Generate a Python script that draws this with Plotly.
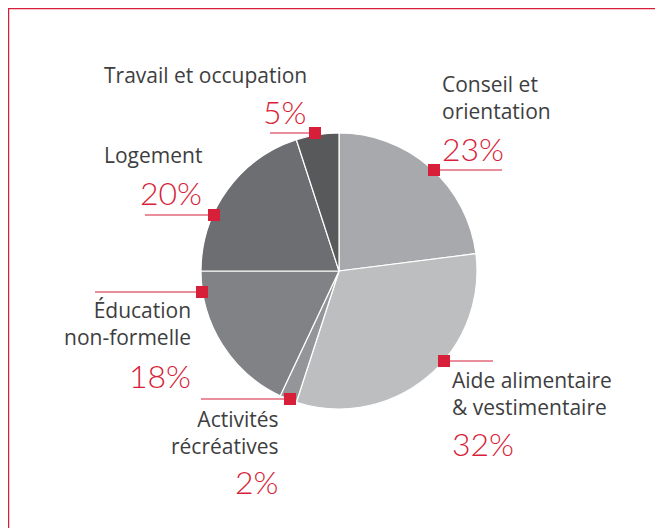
import plotly.graph_objects as go

W, H = 663, 528
OFF = 8  # page body margin of the browser

# data
labels = ["Conseil et orientation", "Aide alimentaire & vestimentaire",
          "Activités récréatives", "Éducation non-formelle",
          "Logement", "Travail et occupation"]
values = [23, 32, 2, 18, 20, 5]
slice_colors = ["#a7a9ac", "#bcbec0", "#939598", "#808285", "#6d6e71", "#58595b"]
label_lines = [["Conseil et", "orientation"],
               ["Aide alimentaire", "& vestimentaire"],
               ["Activités", "récréatives"],
               ["Éducation", "non-formelle"],
               ["Logement"],
               ["Travail et occupation"]]

RED = "#d71f3a"
GREY_TXT = "#3e3e40"
FONT = "Open Sans"

# pie placement (page pixels)
cx, cy, r = 339, 271, 138

# callout layout: marker (x,y), line x-range, text anchor x, side, baselines
callouts = [
    dict(m=(434, 170), lx=(434, 502), tx=440, side="left", base=[91, 119], pbase=160),
    dict(m=(444, 361), lx=(444, 493), tx=450, side="left", base=[388, 415], pbase=455),
    dict(m=(290, 399), lx=(201, 290), tx=281, side="right", base=[427, 453], pbase=493),
    dict(m=(202, 292), lx=(95, 202), tx=193, side="right", base=[318, 345], pbase=387),
    dict(m=(214, 215), lx=(145, 214), tx=204, side="right", base=[163], pbase=205),
    dict(m=(315, 133), lx=(270, 315), tx=309, side="right", base=[83], pbase=123),
]


def px(x, y):
    return (x - OFF) / W, 1 - (y - OFF) / H


fig = go.Figure(go.Pie(
    labels=labels, values=values, sort=False, direction="clockwise", rotation=0,
    marker=dict(colors=slice_colors, line=dict(color="white", width=1.2)),
    textinfo="none", hoverinfo="label+percent", showlegend=False,
    domain=dict(x=[(cx - r - OFF) / W, (cx + r - OFF) / W],
                y=[1 - (cy + r - OFF) / H, 1 - (cy - r - OFF) / H]),
))

shapes = []
annotations = []
# frame (top and left edges visible)
shapes.append(dict(type="line", xref="paper", yref="paper",
                   x0=0, y0=1, x1=1, y1=1, line=dict(color=RED, width=2.5)))
shapes.append(dict(type="line", xref="paper", yref="paper",
                   x0=0, y0=0, x1=0, y1=1, line=dict(color=RED, width=2.5)))

for i, c in enumerate(callouts):
    mx, my = c["m"]
    x0, y0 = px(c["lx"][0], my)
    x1, y1 = px(c["lx"][1], my)
    shapes.append(dict(type="line", xref="paper", yref="paper", x0=x0, y0=y0, x1=x1, y1=y1,
                       line=dict(color=RED, width=1.2)))
    a0 = px(mx - 6, my - 6)
    a1 = px(mx + 6, my + 6)
    shapes.append(dict(type="rect", xref="paper", yref="paper",
                       x0=a0[0], y0=a0[1], x1=a1[0], y1=a1[1],
                       fillcolor=RED, line=dict(width=0)))
    # label (one or two lines)
    mid = sum(c["base"]) / len(c["base"]) - 8
    ax, ay = px(c["tx"], mid)
    annotations.append(dict(xref="paper", yref="paper", x=ax, y=ay,
                            text="<br>".join(label_lines[i]),
                            showarrow=False, xanchor=c["side"], yanchor="middle",
                            align=c["side"],
                            font=dict(family=FONT, size=21, color=GREY_TXT)))
    ax, ay = px(c["tx"], c["pbase"] - 12)
    annotations.append(dict(xref="paper", yref="paper", x=ax, y=ay,
                            text=f"{values[i]}%", showarrow=False,
                            xanchor=c["side"], yanchor="middle",
                            font=dict(family="Lato", size=32, color=RED, weight=300)))

fig.update_layout(width=W, height=H, margin=dict(l=0, r=0, t=0, b=0),
                  paper_bgcolor="white", plot_bgcolor="white",
                  shapes=shapes, annotations=annotations)

fig.write_html("out.html")
